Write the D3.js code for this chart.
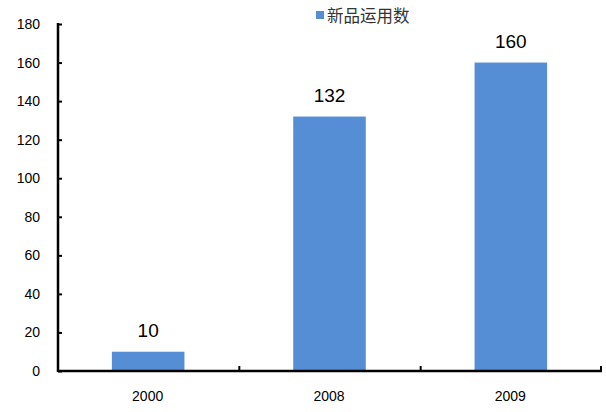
<!DOCTYPE html>
<html><head><meta charset="utf-8">
<script src="https://cdn.jsdelivr.net/npm/d3@7"></script>
<style>body{margin:0;background:#fff}svg{display:block}</style>
</head><body>
<script>
const categories = ["2000", "2008", "2009"];
const values = [10, 132, 160];
const yTicks = [0, 20, 40, 60, 80, 100, 120, 140, 160, 180];
const seriesName = "新品运用数";

const W = 606, H = 412;
const mLeft = 58, mRight = 602, mTop = 24, mBottom = 371;
const svg = d3.select("body").append("svg").attr("width", W).attr("height", H);

const x = d3.scaleBand().domain(categories).range([mLeft, mRight]).padding(0);
const y = d3.scaleLinear().domain([0, 180]).range([mBottom, mTop]);
const font = "'Liberation Sans', Arial, sans-serif";
const barW = x.bandwidth() * 0.4;

svg.selectAll("rect.bar").data(values).enter().append("rect")
  .attr("x", (d, i) => x(categories[i]) + x.bandwidth() / 2 - barW / 2 - 0.5)
  .attr("y", d => y(d))
  .attr("width", barW)
  .attr("height", d => mBottom - y(d))
  .attr("fill", "#558ED5");

svg.selectAll("text.val").data(values).enter().append("text")
  .attr("x", (d, i) => x(categories[i]) + x.bandwidth() / 2 - 0.5)
  .attr("y", d => y(d) - 15)
  .attr("text-anchor", "middle")
  .attr("font-family", font).attr("font-size", 19).attr("fill", "#000")
  .text(d => d);

// y axis
const yAxis = d3.axisLeft(y).tickValues(yTicks).tickSize(-4).tickPadding(18);
const gy = svg.append("g").attr("transform", `translate(${mLeft},0)`).call(yAxis);
gy.select(".domain").remove();
gy.selectAll(".tick line").attr("stroke", "#000").attr("stroke-width", 2);
gy.selectAll(".tick text").attr("font-family", font).attr("font-size", 14).attr("fill", "#000");
svg.append("line").attr("x1", mLeft).attr("x2", mLeft).attr("y1", mTop - 1).attr("y2", mBottom + 1)
  .attr("stroke", "#000").attr("stroke-width", 2.5);

// x axis
const gx = svg.append("g").attr("transform", `translate(0,${mBottom})`)
  .call(d3.axisBottom(x).tickSize(0).tickPadding(20));
gx.select(".domain").remove();
gx.selectAll(".tick text").attr("font-family", font).attr("font-size", 14).attr("fill", "#000")
  .attr("dx", -1);
svg.append("line").attr("x1", mLeft).attr("x2", mRight).attr("y1", mBottom).attr("y2", mBottom)
  .attr("stroke", "#000").attr("stroke-width", 2.5);
const bounds = categories.slice(1).map(c => x(c)).concat([mRight - 1]);
svg.selectAll("line.xt").data(bounds).enter().append("line")
  .attr("x1", d => d).attr("x2", d => d).attr("y1", mBottom).attr("y2", mBottom - 5)
  .attr("stroke", "#000").attr("stroke-width", 2);

// legend
svg.append("rect").attr("x", 316).attr("y", 11).attr("width", 8).attr("height", 8).attr("fill", "#558ED5");
svg.append("text").attr("x", 327).attr("y", 21.5)
  .attr("font-family", "'Noto Sans CJK SC', sans-serif").attr("font-size", 16.5).attr("fill", "#333")
  .text(seriesName);
</script>
</body></html>
